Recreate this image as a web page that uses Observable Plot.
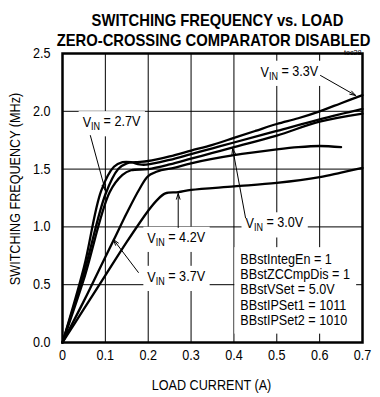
<!DOCTYPE html>
<html><head><meta charset="utf-8">
<script src="https://cdn.jsdelivr.net/npm/d3@7"></script>
<script src="https://cdn.jsdelivr.net/npm/@observablehq/plot@0.6"></script>
<style>
body{margin:0;background:#fff}
svg{display:block}
</style>
</head><body>
<script>
// ---- data ----
const titleLines = ["SWITCHING FREQUENCY vs. LOAD", "ZERO-CROSSING COMPARATOR DISABLED"];
const figureId = "toc28";
const xLabel = "LOAD CURRENT (A)";
const yLabel = "SWITCHING FREQUENCY (MHz)";
const xTicks = [0, 0.1, 0.2, 0.3, 0.4, 0.5, 0.6, 0.7];
const yTicks = [0, 0.5, 1.0, 1.5, 2.0, 2.5];

const x27 = [0, 0.05, 0.09, 0.12, 0.14, 0.16, 0.18, 0.2, 0.25, 0.3, 0.35, 0.4, 0.5, 0.6, 0.7];
const f27 = [0, 0.65, 1.31, 1.52, 1.56, 1.56, 1.54, 1.54, 1.58, 1.63, 1.68, 1.73, 1.83, 1.93, 2.02];

const x33 = [0, 0.05, 0.1, 0.13, 0.15, 0.17, 0.2, 0.25, 0.3, 0.35, 0.4, 0.45, 0.5, 0.55, 0.6, 0.65, 0.7];
const f33 = [0, 0.60, 1.28, 1.50, 1.55, 1.56, 1.57, 1.61, 1.66, 1.71, 1.77, 1.83, 1.89, 1.94, 2.00, 2.07, 2.14];

const x30 = [0, 0.05, 0.11, 0.14, 0.16, 0.2, 0.25, 0.3, 0.35, 0.4, 0.5, 0.6, 0.7];
const f30 = [0, 0.55, 1.30, 1.45, 1.49, 1.50, 1.54, 1.59, 1.64, 1.69, 1.79, 1.91, 1.98];

const x37 = [0, 0.05, 0.1, 0.12, 0.15, 0.18, 0.2, 0.23, 0.26, 0.3, 0.4, 0.5, 0.55, 0.6, 0.65];
const f37 = [0, 0.36, 0.74, 0.89, 1.12, 1.33, 1.44, 1.49, 1.51, 1.55, 1.62, 1.67, 1.69, 1.70, 1.69];

const x42 = [0, 0.05, 0.1, 0.15, 0.2, 0.22, 0.24, 0.27, 0.3, 0.4, 0.5, 0.6, 0.65, 0.7];
const f42 = [0, 0.29, 0.58, 0.87, 1.14, 1.23, 1.29, 1.30, 1.32, 1.35, 1.38, 1.43, 1.47, 1.51];

const seriesNames = ["2.7V", "3.3V", "3.0V", "3.7V", "4.2V"];
const seriesX = [x27, x33, x30, x37, x42];
const seriesF = [f27, f33, f30, f37, f42];

// labels: text, anchor x, y (data units), arrow tail and head
const labelText = ["VIN = 2.7V", "VIN = 3.3V", "VIN = 4.2V", "VIN = 3.7V", "VIN = 3.0V"];
const labelX = [0.047, 0.462, 0.198, 0.198, 0.427];
const labelY = [1.90, 2.336, 0.90, 0.562, 1.025];
const arrowX1 = [0.065, 0.602, 0.270, 0.177, 0.427];
const arrowY1 = [1.79, 2.31, 0.995, 0.606, 1.08];
const arrowX2 = [0.100, 0.684, 0.270, 0.119, 0.397];
const arrowY2 = [1.315, 2.137, 1.289, 0.89, 1.678];

const settingsLines = ["BBstIntegEn = 1", "BBstZCCmpDis = 1", "BBstVSet = 5.0V", "BBstIPSet1 = 1011", "BBstIPSet2 = 1010"];
const settingsX = 0.415;
const settingsY = 0.458;

// ---- build tables ----
const rows = seriesNames.flatMap((s, i) => seriesX[i].map((x, j) => ({series: s, x, f: seriesF[i][j]})));
const labels = labelText.map((t, i) => ({t, x: labelX[i], y: labelY[i]}));
const arrows = labelText.map((t, i) => ({x1: arrowX1[i], y1: arrowY1[i], x2: arrowX2[i], y2: arrowY2[i]}));

const FONT = "'Liberation Sans',Arial,Helvetica,sans-serif";

const svg = Plot.plot({
  width: 380,
  height: 397,
  marginLeft: 62,
  marginRight: 18,
  marginTop: 53,
  marginBottom: 55,
  style: {fontFamily: FONT, fontSize: "14px", color: "black", background: "white"},
  x: {domain: [0, 0.7]},
  y: {domain: [0, 2.5]},
  marks: [
    Plot.gridX(xTicks, {stroke: "black", strokeOpacity: 1, strokeWidth: 1}),
    Plot.gridY(yTicks, {stroke: "black", strokeOpacity: 1, strokeWidth: 1}),
    Plot.line(rows, {x: "x", y: "f", z: "series", stroke: "black", strokeWidth: 2.3, curve: "catmull-rom"}),
    Plot.frame({stroke: "black", strokeWidth: 2.5}),
    Plot.axisX(xTicks, {tickSize: 0, tickPadding: 8, label: null, tickFormat: d => d === 0 ? "0" : d3.format(".1f")(d), fontSize: 14}),
    Plot.axisY(yTicks, {tickSize: 0, tickPadding: 12, label: null, tickFormat: d3.format(".1f"), fontSize: 14}),
    Plot.arrow(arrows, {x1: "x1", y1: "y1", x2: "x2", y2: "y2", stroke: "black", strokeWidth: 1, headLength: 9, headAngle: 35}),
    Plot.text(labels, {x: "x", y: "y", text: "t", textAnchor: "start", fontSize: 14, fill: "black"}),
    Plot.text([settingsLines.join("\n")], {x: settingsX, y: settingsY, text: d => d, textAnchor: "start", lineHeight: 1.08, fontSize: 14, fill: "black"}),
    Plot.text([titleLines[0]], {frameAnchor: "top", dy: -40, dx: 5, text: d => d, fontSize: 17, fontWeight: "bold", fill: "black"}),
    Plot.text([titleLines[1]], {frameAnchor: "top", dy: -20, dx: 1, text: d => d, fontSize: 17, fontWeight: "bold", fill: "black"}),
    Plot.text([figureId], {frameAnchor: "top-right", dy: -4, dx: -1, text: d => d, fontSize: 8, fill: "black", textAnchor: "end"}),
    Plot.text([xLabel], {frameAnchor: "bottom", dy: 47, dx: -1, text: d => d, fontSize: 14, fill: "black"}),
    Plot.text([yLabel], {frameAnchor: "left", textAnchor: "middle", dx: -47, dy: -9, rotate: -90, text: d => d, fontSize: 14, fill: "black"})
  ]
});
document.body.append(svg);

// subscripts for V_IN labels
const labelEls = [];
d3.select(svg).selectAll("text").each(function() {
  const s = this.textContent;
  if (this.childElementCount === 0 && s.startsWith("VIN = ")) {
    const rest = s.slice(3);
    this.textContent = "";
    const t = d3.select(this);
    t.append("tspan").text("V");
    t.append("tspan").attr("dy", "0.3em").attr("font-size", "10px").text("IN");
    t.append("tspan").attr("dy", "-0.3em").text(rest);
    labelEls.push(this);
  } else if (s.startsWith("BBstIntegEn")) {
    labelEls.push(this);
  }
});

// emulate the narrow typeface of the reference by condensing each text run
function condense(el, k) {
  const L = el.getComputedTextLength();
  if (L > 0) {
    el.setAttribute("textLength", (L * k).toFixed(2));
    el.setAttribute("lengthAdjust", "spacingAndGlyphs");
  }
}
svg.querySelectorAll("text").forEach(el => {
  const lines = el.querySelectorAll("tspan[x]");
  const bold = el.getAttribute("font-weight") === "bold" || (el.parentNode.getAttribute && el.parentNode.getAttribute("font-weight") === "bold");
  if (bold) {
    // titles: horizontal squeeze about the anchor point
    const tr = el.getAttribute("transform") || "";
    el.setAttribute("transform", tr + " scale(0.87,1)");
    return;
  }
  if (lines.length) lines.forEach(t => condense(t, 0.9));
  else condense(el, 0.9);
});

// white masks behind labels (hide gridlines), placed beneath the curves
const sr = svg.getBoundingClientRect();
const lineG = svg.querySelector('g[aria-label="line"]');
const maskG = document.createElementNS("http://www.w3.org/2000/svg", "g");
maskG.setAttribute("aria-label", "label-masks");
for (const el of labelEls) {
  const r = el.getBoundingClientRect();
  const pad = el.textContent.startsWith("BB") ? 6 : 4;
  const rect = document.createElementNS("http://www.w3.org/2000/svg", "rect");
  rect.setAttribute("x", r.left - sr.left - pad);
  rect.setAttribute("y", r.top - sr.top - pad + 2);
  rect.setAttribute("width", r.width + 2 * pad);
  rect.setAttribute("height", r.height + 2 * pad - 2);
  rect.setAttribute("fill", "white");
  maskG.appendChild(rect);
}
lineG.parentNode.insertBefore(maskG, lineG);
</script>
</body></html>
